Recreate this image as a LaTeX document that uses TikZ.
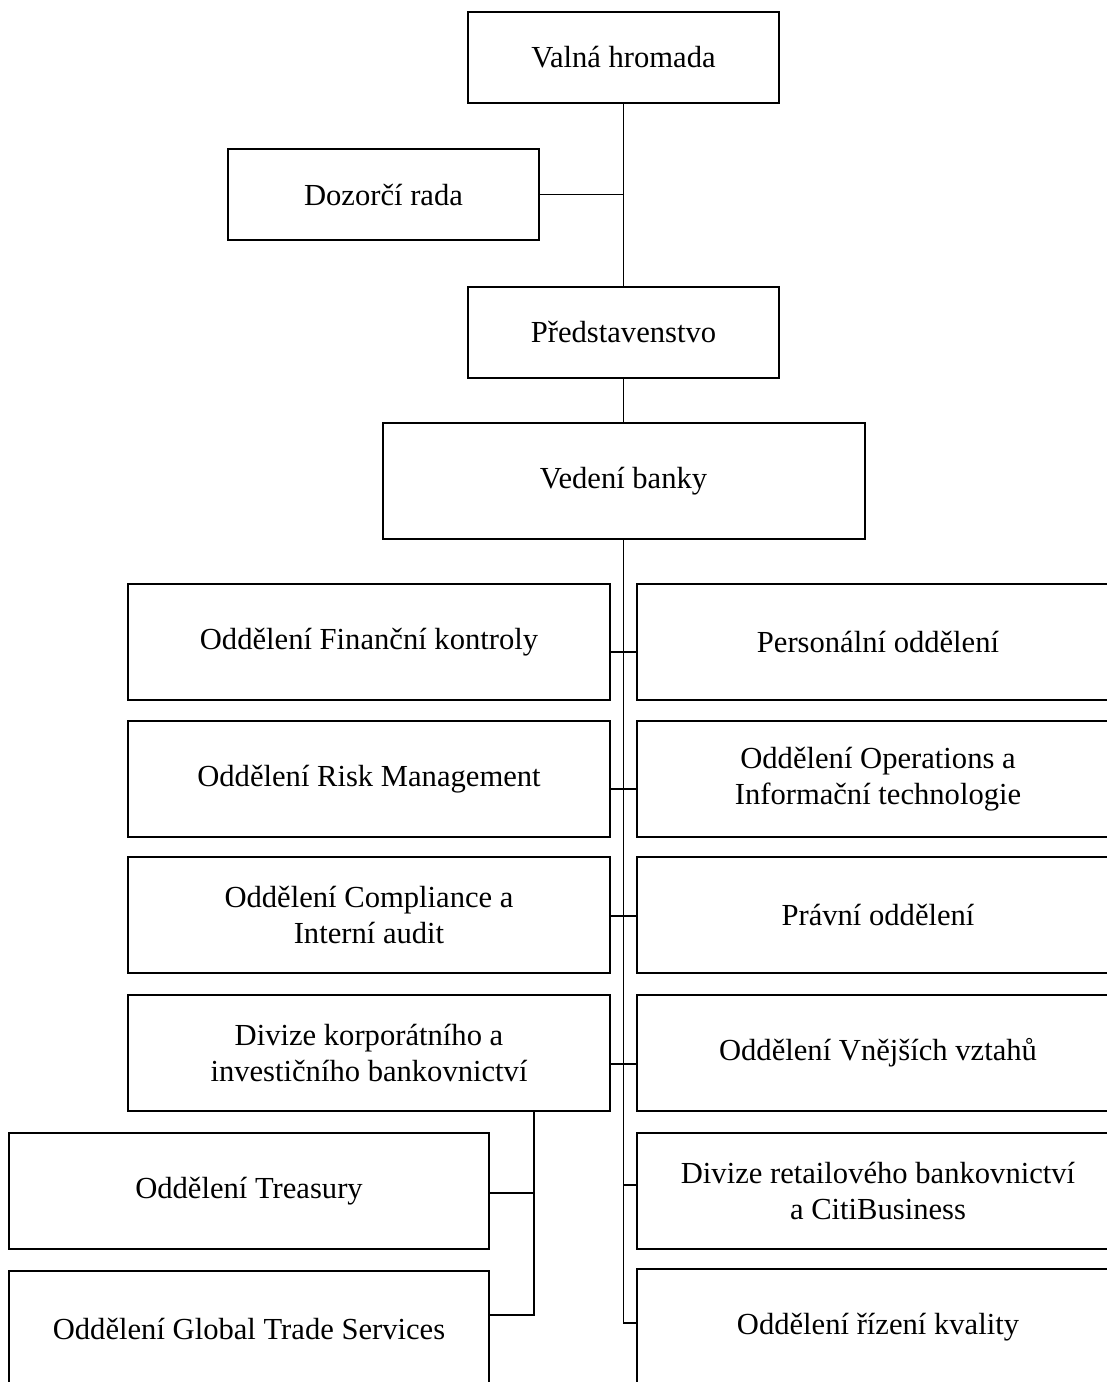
\documentclass[tikz,border=0pt]{standalone}
\usepackage{fontspec}
\setmainfont{Liberation Serif}
\usepackage{tikz}
\usetikzlibrary{positioning,calc}
\definecolor{ink}{HTML}{000000}
\newcommand{\orgfont}{\fontsize{15.3pt}{18pt}\selectfont}
\tikzset{
    every picture/.style={line join=miter},
    topbox/.style={draw=ink,line width=1pt,minimum width=155.5pt,
      minimum height=45.5pt,inner sep=2pt,outer sep=0pt,align=center,font=\orgfont},
    unitbox/.style={draw=ink,line width=1pt,minimum width=241pt,
      minimum height=58pt,inner sep=2pt,outer sep=0pt,align=center,font=\orgfont},
    link/.style={draw=ink,line width=0.85pt}
}

\begin{document}
\begin{tikzpicture}[x=0.5pt,y=-0.5pt]
  \useasboundingbox (0,0) rectangle (1107,1382);
  \clip (0,0) rectangle (1107,1382);
  % top of the chart
  \node[topbox] (valna) at (623.5,57) {Valná hromada};
  \node[topbox] (dozor) at (383.5,194.5) {Dozorčí rada};
  \node[topbox] (pred) at (623.5,332) {Představenstvo};
  \node[unitbox] (vedeni) at (623.5,481) {Vedení banky};
  \draw[link] (valna.south)--(pred.north);
  \draw[link] (dozor.east)--(dozor.east -| valna.south);
  \draw[link] (pred.south)--(vedeni.north);
  % departments, two columns
  \foreach \i/\y/\txt in {1/642/{Oddělení Finanční kontroly},
      2/779/{Oddělení Risk Management},
      3/915/{Oddělení Compliance a\\Interní audit},
      4/1053/{Divize korporátního a\\investičního bankovnictví}} {
    \node[unitbox] (l\i) at (369,\y) {\txt};
  }
  \foreach \i/\y/\txt in {1/642/{Personální oddělení},
      2/779/{Oddělení Operations a\\Informační technologie},
      3/915/{Právní oddělení},
      4/1053/{Oddělení Vnějších vztahů},
      5/1191/{Divize retailového bankovnictví\\a CitiBusiness},
      6/1327/{Oddělení řízení kvality}} {
    \node[unitbox] (r\i) at (878,\y) {\txt};
  }
  \draw[link] (vedeni.south) |- ([yshift=2pt]r6.west);
  \foreach \i/\dy in {1/-5pt,2/-5pt,3/-0.5pt,4/-5.5pt} {
    \draw[link] ([yshift=\dy]l\i.east)--([yshift=\dy]r\i.west);
  }
  \coordinate (r5in) at ([yshift=3pt]r5.west);
  \draw[link] (vedeni.south |- r5in)--(r5in);
  % corporate division
  \node[unitbox,minimum width=240pt] (treas) at (249,1191) {Oddělení Treasury};
  \node[unitbox,minimum width=240pt] (gts) at (249,1329) {Oddělení Global Trade Services};
  \coordinate (sub) at ([xshift=-38pt]l4.south east);
  \coordinate (treasin) at ([yshift=-1pt]treas.east);
  \draw[link] (sub) |- ([yshift=7pt]gts.east);
  \draw[link] (treasin)--(treasin -| sub);
\end{tikzpicture}
\end{document}
